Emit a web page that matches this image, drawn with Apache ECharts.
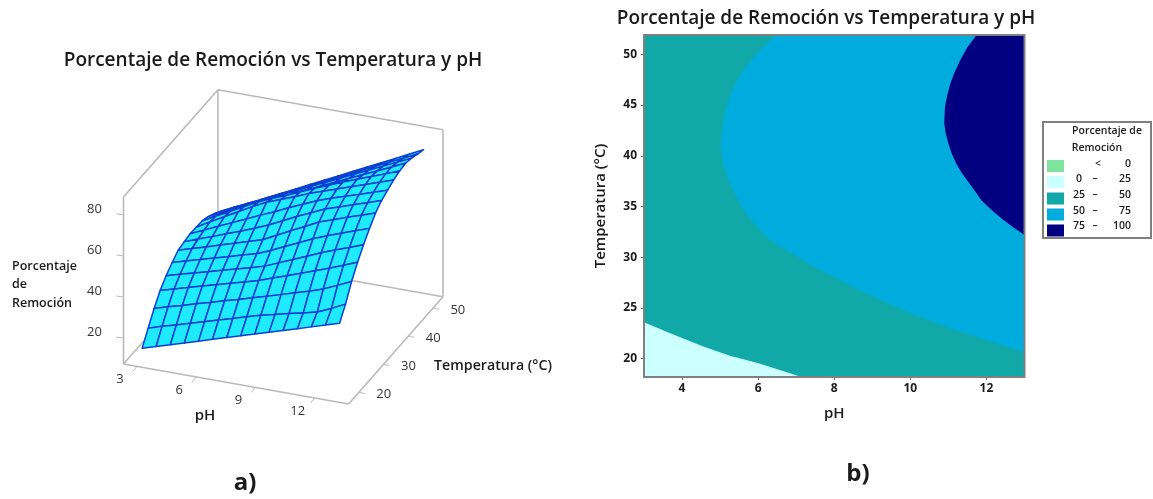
<!DOCTYPE html>
<html><head><meta charset="utf-8">
<style>html,body{margin:0;padding:0;background:#fff}#c{width:1153px;height:499px;filter:blur(0.45px)}</style>
<script src="https://cdn.jsdelivr.net/npm/echarts@6/dist/echarts.min.js"></script>
</head><body><div id="c"></div>
<script>
// ---------- data: surface (panel a) ----------
const phGrid = [3,3.71,4.43,5.14,5.86,6.57,7.29,8,8.71,9.43,10.14,10.86,11.57,12.29,13];
const tempGrid = [18,20.43,22.86,25.29,27.71,30.14,32.57,35,37.43,39.86,42.29,44.71,47.14,49.57,52];
const surfT00 = [13.3,15.4,17.5,19.6,21.7,23.8,25.9,28,30,32.1,34.2,36.3,38.4,40.5,42.6];
const surfT01 = [19.8,21.9,23.8,25.9,27.8,29.9,31.8,33.9,35.9,37.4,39.1,40.6,42.3,45.3,48.6];
const surfT02 = [26.1,28.1,30,32,33.9,35.9,37.8,39.8,41.8,43.8,45.9,47.9,50.2,53.2,56.3];
const surfT03 = [31.5,33.4,35.4,37.3,39.2,41.1,43,44.9,47.3,49.7,52.1,54.5,57,59.7,62.3];
const surfT04 = [35.4,37.3,39.1,41,42.9,44.7,46.6,48.6,51.4,54.3,57.1,60,62.5,65,67.5];
const surfT05 = [38.5,40.4,42.4,44.3,46.2,48.2,50.1,52.9,56,59.1,62.3,65,67.4,69.8,72.2];
const surfT06 = [41.1,43.2,45.2,47.3,49.4,51.5,53.6,57,60.4,63.7,67.1,69.4,71.8,74.1,76.4];
const surfT07 = [41.9,44.5,46.9,49.5,52,54.6,57.4,60.7,64,67.1,70.1,72.3,74.6,76.8,79.1];
const surfT08 = [42.5,45.5,48.6,51.6,54.6,57.7,60.6,63.7,66.6,69.6,72,74.2,76.3,78.6,80.8];
const surfT09 = [42.4,46.2,49.9,53.6,57.3,60.6,63.2,65.8,68.5,70.9,73.2,75.5,77.8,80.1,82.4];
const surfT10 = [42.1,45.7,49.2,52.8,56.3,59.2,62,64.9,67.8,70.5,73.3,75.8,78.4,80.9,83.5];
const surfT11 = [40.9,44,47.1,50.1,53.2,56.3,59.4,62.5,65.5,68.6,71.7,74.8,77.8,80.9,84];
const surfT12 = [39,42.2,45.3,48.5,51.6,54.8,57.9,61.1,64.2,67.4,70.5,73.7,76.8,80,83.1];
const surfT13 = [36.8,40,43.2,46.4,49.7,52.9,56.1,59.3,62.5,65.7,68.9,72.2,75.4,78.6,81.8];
const surfT14 = [34,37.3,40.7,44,47.3,50.6,54,57.3,60.6,64,67.3,70.6,73.9,77.3,80.6];
const surface = [surfT00,surfT01,surfT02,surfT03,surfT04,surfT05,surfT06,surfT07,surfT08,surfT09,surfT10,surfT11,surfT12,surfT13,surfT14];
const surfPhTicks = [3,6,9,12];
const surfTempTicks = [20,30,40,50];
const surfZTicks = [20,40,60,80];
// ---------- data: contour boundaries (panel b), [pH, T] ----------
const boundary25 = [[3,23.6],[3.77,22.4],[4.56,21.2],[5.26,20.3],[5.96,19.6],[6.57,18.9],[7.14,18.2],[3,18.2]];
const boundary50 = [[6.47,51.9],[6.2,51],[5.96,50.06],[5.73,49],[5.52,47.9],[5.38,46.9],[5.26,45.96],[5.15,44.6],[5.08,43.2],[5.04,42],[5.02,40.9],[5.08,39.2],[5.18,38],[5.3,36.9],[5.48,35.6],[5.62,34.7],[5.79,33.8],[5.99,32.9],[6.22,32],[6.6,31],[7.1,29.9],[7.5,29],[7.97,28.1],[8.47,27.1],[9.02,26.1],[9.99,24.5],[11.04,23],[12.09,21.7],[13,20.66],[13,51.9]];
const boundary75 = [[11.74,51.9],[11.5,50.7],[11.31,49.4],[11.16,48.2],[11.05,47.1],[10.97,46],[10.91,44.8],[10.89,43.2],[10.93,42.2],[11,41.2],[11.09,40.2],[11.21,39.2],[11.37,38.2],[11.55,37.3],[11.72,36.4],[11.87,35.6],[12.15,34.6],[12.44,33.7],[12.72,32.9],[13,32.2],[13,51.9]];
const plotArea = [[3,18.2],[13,18.2],[13,51.9],[3,51.9]];
const phTicks = [4,6,8,10,12];
const tempTicks = [20,25,30,35,40,45,50];
const legendLabels = [['<','0'],['0','25'],['25','50'],['50','75'],['75','100']];
const legendColors = ['#7FE3A0','#CCFFFF','#10A9A8','#00ACDE','#000080'];
// ---------- styles ----------
const font = '"Open Sans","Liberation Sans",sans-serif';
const ink = '#1a1a1a';
const boxGrey = '#b9b9b9';
// 3-D box ranges and projection
const PH0=2.32, PH1=13.72, T0=15.9, T1=54.1, Z0=7.4, Z1=88.7;
function project(pH,T,z){
  const u=(pH-PH0)/(PH1-PH0), v=(T-T0)/(T1-T0), w=(z-Z0)/(Z1-Z0);
  return [123.5+225.1*u+94.4*v, 364+40*u-107.3*v-167*w];
}
const boxEdges = [
  [[PH0,T0,Z0],[PH1,T0,Z0]],[[PH1,T0,Z0],[PH1,T1,Z0]],[[PH1,T1,Z0],[PH0,T1,Z0]],[[PH0,T1,Z0],[PH0,T0,Z0]],
  [[PH0,T0,Z0],[PH0,T0,Z1]],[[PH0,T1,Z0],[PH0,T1,Z1]],[[PH1,T1,Z0],[PH1,T1,Z1]],
  [[PH0,T0,Z1],[PH0,T1,Z1]],[[PH0,T1,Z1],[PH1,T1,Z1]]
];
const cells=[];
for(let r=tempGrid.length-2;r>=0;r--) for(let c=0;c<phGrid.length-1;c++) cells.push([r,c]);

const chart = echarts.init(document.getElementById('c'),null,{renderer:'canvas'});
function txt(x,y,s,o){return {type:'text',x:x,y:y,style:Object.assign({text:s,fill:ink,font:'600 12px '+font,textAlign:'center',textVerticalAlign:'middle'},o||{})};}
const lf='600 10.5px '+font;
const legendGraphics=[
  {type:'rect',shape:{x:1043,y:122,width:108,height:116},style:{fill:'#fff',stroke:'#808080',lineWidth:2}},
  txt(1107,131,'Porcentaje de',{font:lf}),
  txt(1097,148,'Remoción',{font:lf})
];
const rowY=[166,182,198.5,214.5,230.5], textY=[164,179.5,195,211.5,226.5];
legendColors.forEach((col,i)=>{
  legendGraphics.push({type:'rect',shape:{x:1047,y:rowY[i]-6,width:17,height:12},style:{fill:col}});
  const lb=legendLabels[i];
  if(i===0){
    legendGraphics.push(txt(1098,textY[i],lb[0],{font:lf}));
  } else {
    legendGraphics.push(txt(1079,textY[i],lb[0],{font:lf}));
    legendGraphics.push(txt(1095,textY[i],'–',{font:lf}));
  }
  legendGraphics.push(txt(1131,textY[i],lb[1],{font:lf,textAlign:'right'}));
});
const canvasAxis={type:'value',show:false};
const titleStyle={fontFamily:font,fontWeight:600,fontSize:19,color:ink};
const opt={
  animation:false,
  title:[
    {text:'Porcentaje de Remoción vs Temperatura y pH',left:268,top:46,textAlign:'center',textStyle:titleStyle},
    {text:'Porcentaje de Remoción vs Temperatura y pH',left:821,top:4,textAlign:'center',textStyle:titleStyle}
  ],
  grid:[
    {left:0,top:0,width:1153,height:499,show:false},
    {left:644,top:35,width:380.5,height:342,show:false}
  ],
  xAxis:[
    Object.assign({},canvasAxis,{gridIndex:0,min:0,max:1153}),
    {type:'value',gridIndex:1,min:3,max:13,splitLine:{show:false},
      axisLine:{show:false},
      axisTick:{show:true,length:3,customValues:phTicks,lineStyle:{color:'#707070',width:1}},
      axisLabel:{customValues:phTicks,margin:6,color:ink,fontFamily:font,fontWeight:700,fontSize:12},
      name:'pH',nameLocation:'middle',nameGap:29,nameTextStyle:{color:ink,fontFamily:font,fontWeight:600,fontSize:15}}
  ],
  yAxis:[
    Object.assign({},canvasAxis,{gridIndex:0,min:0,max:499,inverse:true}),
    {type:'value',gridIndex:1,min:18.2,max:51.9,splitLine:{show:false},
      axisLine:{show:false},
      axisTick:{show:true,length:3,customValues:tempTicks,lineStyle:{color:'#707070',width:1}},
      axisLabel:{customValues:tempTicks,margin:7,color:ink,fontFamily:font,fontWeight:700,fontSize:12},
      name:'Temperatura (°C)',nameLocation:'middle',nameGap:36,nameRotate:90,nameTextStyle:{color:ink,fontFamily:font,fontWeight:600,fontSize:15}}
  ],
  series:[
    {type:'custom',xAxisIndex:0,yAxisIndex:0,silent:true,z:1,data:boxEdges.map((e,i)=>[i]),
      renderItem(p,api){
        const e=boxEdges[api.value(0)];
        const a=api.coord(project.apply(null,e[0])), b=api.coord(project.apply(null,e[1]));
        return {type:'line',shape:{x1:a[0],y1:a[1],x2:b[0],y2:b[1]},style:{stroke:boxGrey,lineWidth:1.6}};
      }},
    {type:'custom',xAxisIndex:0,yAxisIndex:0,silent:true,z:2,
      data:surfPhTicks.map(v=>['ph',v]).concat(surfTempTicks.map(v=>['t',v]),surfZTicks.map(v=>['z',v])),
      encode:{},
      renderItem(p,api){
        const d=opt.series[1].data[p.dataIndex], v=d[1];
        let q,dx,dy,lx,ly;
        if(d[0]==='ph'){q=project(v,T0,Z0);dx=-4;dy=5;lx=-17;ly=13;}
        else if(d[0]==='t'){q=project(PH1,v,Z0);dx=6;dy=1;lx=25;ly=2;}
        else {q=project(PH0,T0,v);dx=-7;dy=-1;lx=-29;ly=-6;}
        const a=api.coord(q), b=api.coord([q[0]+dx,q[1]+dy]), c=api.coord([q[0]+lx,q[1]+ly]);
        return {type:'group',children:[
          {type:'line',shape:{x1:a[0],y1:a[1],x2:b[0],y2:b[1]},style:{stroke:boxGrey,lineWidth:1}},
          {type:'text',x:c[0],y:c[1],style:{text:String(v),fill:'#333',font:'400 13px '+font,textAlign:'center',textVerticalAlign:'middle'}}
        ]};
      }},
    {type:'custom',xAxisIndex:0,yAxisIndex:0,silent:true,z:3,progressive:0,data:cells,
      renderItem(p,api){
        const r=api.value(0), c=api.value(1);
        const pts=[[r,c],[r,c+1],[r+1,c+1],[r+1,c]].map(k=>api.coord(project(phGrid[k[1]],tempGrid[k[0]],surface[k[0]][k[1]])));
        return {type:'polygon',shape:{points:pts},style:{fill:'#1EEBFF',stroke:'#0B3FD2',lineWidth:1.5,lineJoin:'round'}};
      }},
    {type:'custom',xAxisIndex:1,yAxisIndex:1,silent:true,z:3,clip:true,data:[[0],[1],[2],[3]],
      renderItem(p,api){
        const reg=[plotArea,boundary25,boundary50,boundary75][api.value(0)];
        const col=[legendColors[2],legendColors[1],legendColors[3],legendColors[4]][api.value(0)];
        return {type:'polygon',shape:{points:reg.map(q=>api.coord(q))},style:{fill:col}};
      }},
    {type:'custom',xAxisIndex:1,yAxisIndex:1,silent:true,z:4,clip:false,data:[[0]],
      renderItem(p,api){
        const a=api.coord(plotArea[3]), b=api.coord(plotArea[1]);
        return {type:'rect',shape:{x:a[0],y:a[1],width:b[0]-a[0],height:b[1]-a[1]},style:{fill:'none',stroke:'#808080',lineWidth:2}};
      }}
  ],
  graphic:{elements:[
    txt(12,266,'Porcentaje',{textAlign:'left',font:'600 12.5px '+font}),
    txt(12,284,'de',{textAlign:'left',font:'600 12.5px '+font}),
    txt(12,303,'Remoción',{textAlign:'left',font:'600 12.5px '+font}),
    txt(205,416,'pH',{font:'600 15px '+font}),
    txt(493,366,'Temperatura (°C)',{font:'600 14.2px '+font}),
    txt(245,483,'a)',{font:'700 24px '+font}),
    txt(858,474,'b)',{font:'700 24px '+font})
  ].concat(legendGraphics)}
};
chart.setOption(opt);
</script></body></html>
